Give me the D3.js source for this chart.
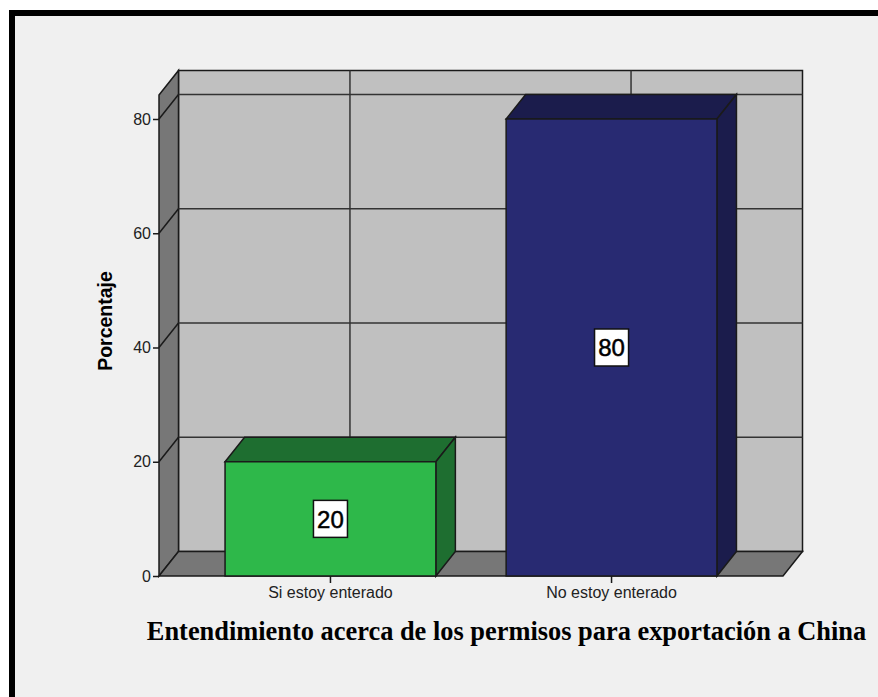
<!DOCTYPE html>
<html>
<head>
<meta charset="utf-8">
<script src="https://cdn.jsdelivr.net/npm/d3@7"></script>
<style>
  html, body { margin: 0; padding: 0; background: #ffffff; }
  svg { display: block; }
</style>
</head>
<body>
<script>
// Data
const categories = ["Si estoy enterado", "No estoy enterado"];
const percentages = [20, 80];
const yTicks = [0, 20, 40, 60, 80];
const barColors = ["#2eb84a", "#282a72"];
const barShades = ["#1e6e30", "#1b1c4c"];
const titleText = "Entendimiento acerca de los permisos para exportación a China";
const yTitle = "Porcentaje";

const W = 878, H = 697;
const svg = d3.select("body").append("svg").attr("width", W).attr("height", H);

// Frame
svg.append("rect").attr("x", 12).attr("y", 13).attr("width", W + 20).attr("height", H + 20)
  .attr("fill", "#f0f0f0").attr("stroke", "#000").attr("stroke-width", 6);

// Scales (front plane) and depth offset for the 3D look
const x = d3.scaleBand().domain(categories).range([159, 783]).paddingInner(0.25).paddingOuter(0.235);
const y = d3.scaleLinear().domain([0, 84.2]).range([576, 95]);
const dx = 19.5, dy = -24.5;
const x0 = 159, x1 = 783;
const line = "#1a1a1a";
const sans = "Arial, 'Liberation Sans', sans-serif";

const g = svg.append("g");

// Back wall
g.append("rect").attr("x", x0 + dx).attr("y", y(84.2) + dy)
  .attr("width", x1 - x0).attr("height", y(0) - y(84.2))
  .attr("fill", "#c0c0c0").attr("stroke", line).attr("stroke-width", 1.5);

// Left wall
g.append("path")
  .attr("d", `M${x0},${y(84.2)} L${x0 + dx},${y(84.2) + dy} L${x0 + dx},${y(0) + dy} L${x0},${y(0)} Z`)
  .attr("fill", "#777777").attr("stroke", line).attr("stroke-width", 1.5);

// Floor
g.append("path")
  .attr("d", `M${x0},${y(0)} L${x0 + dx},${y(0) + dy} L${x1 + dx},${y(0) + dy} L${x1},${y(0)} Z`)
  .attr("fill", "#777777").attr("stroke", line).attr("stroke-width", 1.5);

// Horizontal gridlines on back wall and their diagonals on the left wall
g.selectAll(".hgrid").data(yTicks.slice(1)).join("line")
  .attr("x1", x0 + dx).attr("x2", x1 + dx)
  .attr("y1", d => y(d) + dy).attr("y2", d => y(d) + dy)
  .attr("stroke", "#333").attr("stroke-width", 1.5);
g.selectAll(".dgrid").data(yTicks.slice(1)).join("line")
  .attr("x1", x0).attr("x2", x0 + dx)
  .attr("y1", d => y(d)).attr("y2", d => y(d) + dy)
  .attr("stroke", line).attr("stroke-width", 1.5);

// Vertical gridlines on back wall
g.selectAll(".vgrid").data(categories).join("line")
  .attr("x1", d => x(d) + x.bandwidth() / 2 + dx).attr("x2", d => x(d) + x.bandwidth() / 2 + dx)
  .attr("y1", y(84.2) + dy).attr("y2", y(0) + dy)
  .attr("stroke", "#333").attr("stroke-width", 1.5);

// Bars
const bars = g.selectAll(".bar").data(categories.map((c, i) => ({ c, v: percentages[i], i })))
  .join("g");
bars.append("path")
  .attr("d", d => {
    const bx = x(d.c), bw = x.bandwidth(), by = y(d.v);
    return `M${bx},${by} L${bx + dx},${by + dy} L${bx + bw + dx},${by + dy} L${bx + bw},${by} Z`;
  })
  .attr("fill", d => barShades[d.i]).attr("stroke", line).attr("stroke-width", 1.5);
bars.append("path")
  .attr("d", d => {
    const bx = x(d.c) + x.bandwidth(), by = y(d.v);
    return `M${bx},${by} L${bx + dx},${by + dy} L${bx + dx},${y(0) + dy} L${bx},${y(0)} Z`;
  })
  .attr("fill", d => barShades[d.i]).attr("stroke", line).attr("stroke-width", 1.5);
bars.append("rect")
  .attr("x", d => x(d.c)).attr("y", d => y(d.v))
  .attr("width", x.bandwidth()).attr("height", d => y(0) - y(d.v))
  .attr("fill", d => barColors[d.i]).attr("stroke", line).attr("stroke-width", 1.5);

// Value labels
const lab = bars.append("g")
  .attr("transform", d => `translate(${x(d.c) + x.bandwidth() / 2},${(y(d.v) + y(0)) / 2})`);
lab.append("rect").attr("x", -17).attr("y", -18.5).attr("width", 34).attr("height", 37)
  .attr("fill", "#fff").attr("stroke", "#111").attr("stroke-width", 1.5);
lab.append("text").attr("text-anchor", "middle").attr("dy", "0.36em")
  .attr("font-family", sans).attr("font-size", 24)
  .attr("fill", "#000").attr("stroke", "#000").attr("stroke-width", 0.5)
  .text(d => d.v);

// Y axis
const yAxis = svg.append("g").attr("transform", `translate(${x0},0)`)
  .call(d3.axisLeft(y).tickValues(yTicks).tickSize(6).tickPadding(2));
yAxis.select(".domain").remove();
yAxis.selectAll("line").attr("stroke", line).attr("stroke-width", 1.5);
yAxis.selectAll("text").attr("font-family", sans)
  .attr("font-size", 16).attr("fill", "#222");

// X axis
const xAxis = svg.append("g").attr("transform", `translate(0,${y(0)})`)
  .call(d3.axisBottom(x).tickSize(7).tickPadding(4));
xAxis.select(".domain").remove();
xAxis.selectAll("line").attr("stroke", line).attr("stroke-width", 1.5);
xAxis.selectAll("text").attr("font-family", sans)
  .attr("font-size", 16).attr("fill", "#222");

// Y axis title
svg.append("text").attr("transform", "translate(112,321) rotate(-90)")
  .attr("text-anchor", "middle")
  .attr("font-family", sans).attr("font-weight", "bold")
  .attr("font-size", 19.5).attr("fill", "#000").text(yTitle);

// Chart title
svg.append("text").attr("x", 506.5).attr("y", 640).attr("text-anchor", "middle")
  .attr("font-family", "'Times New Roman', 'Liberation Serif', serif").attr("font-weight", "bold")
  .attr("font-size", 26.4).attr("fill", "#000").text(titleText);
</script>
</body>
</html>
